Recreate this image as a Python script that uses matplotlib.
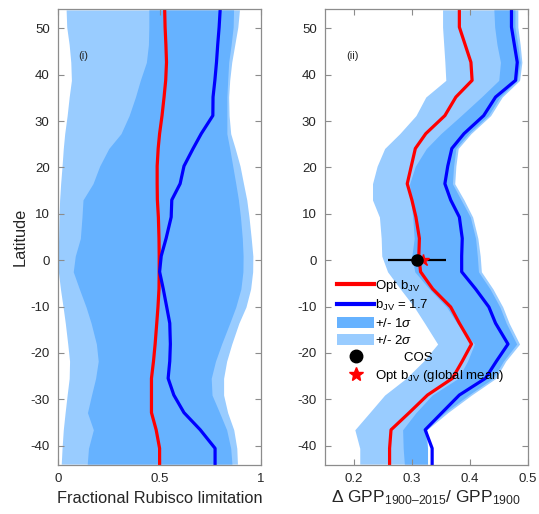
import matplotlib
matplotlib.use("Agg")
import matplotlib.pyplot as plt
from matplotlib.lines import Line2D
from matplotlib.patches import Patch
import numpy as np

plt.rcParams["font.family"] = ["Liberation Sans", "DejaVu Sans"]
plt.rcParams["mathtext.fontset"] = "custom"
plt.rcParams["mathtext.rm"] = "Liberation Sans"
plt.rcParams["mathtext.it"] = "Liberation Sans:italic"
plt.rcParams["axes.unicode_minus"] = False

# common latitude grid (deg)
lat = [-44, -40.6, -36.6, -32.9, -29.1, -25.5, -21.8, -18.1, -13.6, -10.1, -6.2, -2.5, 0.9,
       4.7, 9.3, 13.0, 16.5, 20.3, 24.1, 27.3, 31.2, 35.2, 38.8, 42.7, 46.5, 50.3, 54]

# (i) fractional Rubisco limitation
rub_opt = [0.50, 0.50, 0.483, 0.46, 0.46, 0.46, 0.47, 0.478, 0.486, 0.492, 0.497, 0.498, 0.498,
           0.497, 0.494, 0.489, 0.488, 0.488, 0.493, 0.50, 0.512, 0.522, 0.53, 0.534, 0.531, 0.527, 0.525]
rub_17 = [0.773, 0.773, 0.70, 0.62, 0.57, 0.542, 0.55, 0.553, 0.55, 0.535, 0.518, 0.50, 0.508,
          0.532, 0.557, 0.56, 0.601, 0.62, 0.665, 0.705, 0.762, 0.763, 0.772, 0.78, 0.786, 0.793, 0.798]
rub_lo1 = [0.144, 0.15, 0.174, 0.145, 0.165, 0.185, 0.198, 0.189, 0.163, 0.138, 0.105, 0.075, 0.085,
           0.11, 0.118, 0.123, 0.172, 0.205, 0.25, 0.31, 0.35, 0.381, 0.405, 0.435, 0.445, 0.447, 0.447]
rub_hi1 = [0.856, 0.85, 0.83, 0.795, 0.758, 0.754, 0.775, 0.805, 0.845, 0.875, 0.90, 0.91, 0.911,
           0.907, 0.898, 0.888, 0.875, 0.86, 0.845, 0.831, 0.831, 0.831, 0.835, 0.84, 0.852, 0.862, 0.864]
rub_lo2 = [0.016, 0.02, 0.026, 0.035, 0.045, 0.055, 0.057, 0.048, 0.036, 0.025, 0.012, 0.002, 0.0,
           0.003, 0.005, 0.008, 0.013, 0.02, 0.026, 0.033, 0.045, 0.055, 0.066, 0.063, 0.055, 0.043, 0.04]
rub_hi2 = [0.883, 0.88, 0.865, 0.835, 0.815, 0.815, 0.83, 0.855, 0.89, 0.925, 0.948, 0.958, 0.959,
           0.951, 0.94, 0.929, 0.913, 0.896, 0.872, 0.85, 0.842, 0.84, 0.845, 0.855, 0.87, 0.885, 0.893]

# (ii) relative GPP change 1900-2015
gpp_opt = [0.2615, 0.2615, 0.264, 0.2955, 0.327, 0.370, 0.387, 0.403, 0.382, 0.367, 0.336, 0.315, 0.312,
           0.313, 0.307, 0.300, 0.292, 0.299, 0.306, 0.324, 0.357, 0.376, 0.404, 0.402, 0.392, 0.382, 0.382]
gpp_17 = [0.335, 0.335, 0.323, 0.352, 0.382, 0.427, 0.446, 0.466, 0.4445, 0.433, 0.41, 0.386, 0.386,
          0.387, 0.382, 0.367, 0.357, 0.362, 0.369, 0.390, 0.424, 0.4445, 0.479, 0.482, 0.477, 0.472, 0.472]
gpp_lo1 = [0.287, 0.285, 0.284, 0.307, 0.335, 0.38, 0.396, 0.408, 0.378, 0.36, 0.33, 0.305, 0.300,
           0.304, 0.3015, 0.298, 0.296, 0.306, 0.325, 0.35, 0.385, 0.42, 0.450, 0.453, 0.447, 0.443, 0.4416]
gpp_hi1 = [0.327, 0.327, 0.322, 0.357, 0.398, 0.440, 0.458, 0.481, 0.463, 0.452, 0.435, 0.415, 0.413,
           0.410, 0.401, 0.385, 0.370, 0.372, 0.376, 0.398, 0.432, 0.452, 0.482, 0.487, 0.483, 0.478, 0.478]
gpp_lo2 = [0.21, 0.21, 0.2015, 0.227, 0.253, 0.29, 0.32, 0.3445, 0.322, 0.304, 0.28, 0.258, 0.248,
           0.247, 0.244, 0.232, 0.232, 0.24, 0.253, 0.279, 0.307, 0.324, 0.3586, 0.357, 0.355, 0.353, 0.353]
gpp_hi2 = [0.327, 0.327, 0.326, 0.362, 0.403, 0.445, 0.462, 0.486, 0.468, 0.457, 0.44, 0.42, 0.418,
           0.414, 0.405, 0.39, 0.374, 0.376, 0.380, 0.402, 0.436, 0.456, 0.486, 0.49, 0.487, 0.483, 0.483]

cos_val, cos_err, cos_lat = 0.309, 0.05, 0.0
opt_global = 0.32

c_1sig = "#66b2ff"
c_2sig = "#99ccff"
spine_c = "#8c8c8c"
text_c = "#262626"

fig = plt.figure(figsize=(5.39, 5.14), dpi=100)
ax1 = fig.add_axes([0.1076, 0.0953, 0.377, 0.8872])
ax2 = fig.add_axes([0.603, 0.0953, 0.376, 0.8872])


def style(ax):
    ax.set_ylim(-44.2, 54.2)
    ax.set_yticks(np.arange(-40, 51, 10))
    ax.tick_params(direction="in", top=True, right=True, length=4, width=0.8,
                   colors=spine_c, labelcolor=text_c, labelsize=9.5, pad=6)
    for s in ax.spines.values():
        s.set_color(spine_c)
        s.set_linewidth(0.9)


ax1.fill_betweenx(lat, rub_lo2, rub_hi2, color=c_2sig, lw=0)
ax1.fill_betweenx(lat, rub_lo1, rub_hi1, color=c_1sig, lw=0)
ax1.plot(rub_opt, lat, color="red", lw=2.3)
ax1.plot(rub_17, lat, color="blue", lw=2.3)
ax1.set_xlim(0, 1)
ax1.set_xticks([0, 0.5, 1])
ax1.set_xticklabels(["0", "0.5", "1"])
style(ax1)
ax1.set_xlabel("Fractional Rubisco limitation", fontsize=11.8, color=text_c, labelpad=4)
ax1.set_ylabel("Latitude", fontsize=11.8, color=text_c, labelpad=2)
ax1.text(0.125, 44, "(i)", fontsize=8, color=text_c, ha="center", va="center")

ax2.fill_betweenx(lat, gpp_lo2, gpp_hi2, color=c_2sig, lw=0)
ax2.fill_betweenx(lat, gpp_lo1, gpp_hi1, color=c_1sig, lw=0)
ax2.plot(gpp_opt, lat, color="red", lw=2.3)
ax2.plot(gpp_17, lat, color="blue", lw=2.3)
ax2.errorbar([cos_val], [cos_lat], xerr=[cos_err], fmt="o", color="black", ms=8,
             elinewidth=1.6, capsize=0)
ax2.plot([opt_global], [cos_lat], marker="*", color="red", ms=9, ls="none")
ax2.set_xlim(0.15, 0.5)
ax2.set_xticks([0.2, 0.3, 0.4, 0.5])
style(ax2)
ax2.set_xlabel("Δ GPP$_{\\rm 1900\u20132015}$/ GPP$_{\\rm 1900}$", fontsize=12.5,
               color=text_c, labelpad=2)
ax2.text(0.1975, 44, "(ii)", fontsize=8, color=text_c, ha="center", va="center")

handles = [
    Line2D([], [], color="red", lw=3),
    Line2D([], [], color="blue", lw=3),
    Patch(facecolor=c_1sig, edgecolor="none"),
    Patch(facecolor=c_2sig, edgecolor="none"),
    Line2D([], [], color="black", marker="o", ls="none", ms=9),
    Line2D([], [], color="red", marker="*", ls="none", ms=10),
]
labels = ["Opt b$_{\\rm JV}$", "b$_{\\rm JV}$ = 1.7", "+/- 1$\\sigma$", "+/- 2$\\sigma$",
          "        COS", "Opt b$_{\\rm JV}$ (global mean)"]
ax2.legend(handles, labels, loc="upper left", bbox_to_anchor=(0.06, 0.41), frameon=False,
           fontsize=9.5, handlelength=2.8, handleheight=0.9, handletextpad=0.1,
           labelspacing=0.3, borderaxespad=0, borderpad=0)

fig.savefig("out.png", dpi=100)
